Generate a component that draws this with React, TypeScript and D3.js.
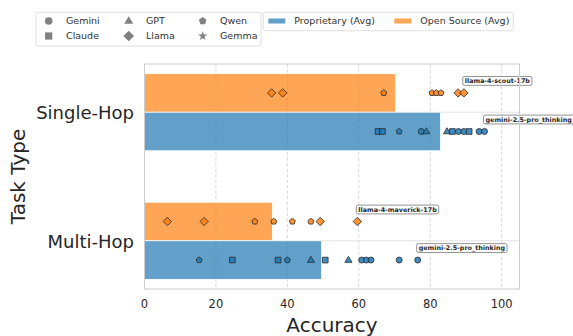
import React, { useEffect, useRef } from "react";
import * as d3 from "d3";

// task categories (top to bottom)
const tasks = ["Single-Hop", "Multi-Hop"];

// averages per task
const proprietaryAvg = [82.9, 49.6];
const openSourceAvg = [70.3, 35.8];

// individual model scores: [family, accuracy]
const singleHopProprietary: [string, number][] = [
  ["Claude", 65.4], ["Claude", 66.6], ["Qwen", 71.3], ["Gemini", 77.5],
  ["GPT", 78.9], ["GPT", 84.7], ["Claude", 86.2], ["Gemini", 87.9],
  ["Gemini", 89.4], ["Claude", 90.9], ["Gemini", 93.7], ["Gemini", 95.2],
];
const singleHopOpen: [string, number][] = [
  ["Llama", 35.6], ["Llama", 38.7], ["Qwen", 67.0], ["Qwen", 80.5],
  ["Qwen", 81.7], ["Qwen", 83.0], ["Llama", 87.8], ["Llama", 89.4],
];
const multiHopProprietary: [string, number][] = [
  ["Qwen", 15.3], ["Claude", 24.6], ["Claude", 37.4], ["Qwen", 40.0],
  ["GPT", 46.6], ["Claude", 50.6], ["GPT", 57.1], ["Gemini", 60.8],
  ["Gemini", 62.1], ["Gemini", 63.4], ["Gemini", 71.3], ["Gemini", 76.5],
];
const multiHopOpen: [string, number][] = [
  ["Llama", 6.4], ["Llama", 16.7], ["Qwen", 30.9], ["Qwen", 36.2],
  ["Qwen", 41.4], ["Qwen", 46.6], ["Llama", 49.2], ["Llama", 59.6],
];

// best model of each group gets a label
const bestProprietary = ["gemini-2.5-pro_thinking", "gemini-2.5-pro_thinking"];
const bestOpen = ["llama-4-scout-17b", "llama-4-maverick-17b"];

const xTicks = [0, 20, 40, 60, 80, 100];
const families = ["Gemini", "Claude", "GPT", "Llama", "Qwen", "Gemma"];

const BLUE = "#1f77b4";
const ORANGE = "#ff7f0e";
const FONT = "DejaVu Sans, sans-serif";
const TXT = "#262626";

function markerPath(family: string, r: number): string {
  const p = d3.path();
  if (family === "Gemini") {
    p.arc(0, 0, r, 0, Math.PI * 2);
    return p.toString();
  }
  if (family === "Claude") {
    const s = r * 0.95;
    return `M${-s},${-s}H${s}V${s}H${-s}Z`;
  }
  if (family === "GPT") {
    const a = r * 1.25;
    return `M0,${-a}L${a * 0.95},${a * 0.6}L${-a * 0.95},${a * 0.6}Z`;
  }
  if (family === "Llama") {
    const a = r * 1.4;
    return `M0,${-a}L${a},0L0,${a}L${-a},0Z`;
  }
  if (family === "Qwen") {
    const a = r * 1.05;
    const pts = d3.range(5).map((i) => {
      const t = -Math.PI / 2 + (i * 2 * Math.PI) / 5;
      return [a * Math.cos(t), a * Math.sin(t)];
    });
    return "M" + pts.map((q) => q.join(",")).join("L") + "Z";
  }
  return d3.symbol(d3.symbolStar, r * r * 1.9)() as string;
}

const App = () => {
  const svgRef = useRef<SVGSVGElement>(null);

  useEffect(() => {
    const width = 573;
    const height = 336;
    const plot = { left: 144.5, right: 519.5, top: 64, bottom: 289 };

    const svg = d3.select(svgRef.current);
    svg.selectAll("*").remove();
    svg.attr("width", width).attr("height", height);

    const x = d3.scaleLinear().domain([0, 105]).range([plot.left, plot.right]);
    const y = d3.scaleLinear().domain([-0.375, 1.375]).range([plot.top, plot.bottom]);

    // grid
    svg
      .append("g")
      .selectAll("line")
      .data(xTicks)
      .join("line")
      .attr("x1", (d) => x(d))
      .attr("x2", (d) => x(d))
      .attr("y1", plot.top)
      .attr("y2", plot.bottom)
      .attr("stroke", "#cfcfcf")
      .attr("stroke-width", 0.8)
      .attr("stroke-dasharray", "3.5,2");
    svg
      .append("g")
      .selectAll("line")
      .data(tasks)
      .join("line")
      .attr("x1", plot.left)
      .attr("x2", plot.right)
      .attr("y1", (_, i) => y(i))
      .attr("y2", (_, i) => y(i))
      .attr("stroke", "#e2e2e2")
      .attr("stroke-width", 1);

    // average bars
    const bars = svg.append("g");
    tasks.forEach((_, i) => {
      bars
        .append("rect")
        .attr("x", x(0))
        .attr("y", y(i - 0.3))
        .attr("width", x(openSourceAvg[i]) - x(0))
        .attr("height", y(i) - y(i - 0.3))
        .attr("fill", ORANGE)
        .attr("fill-opacity", 0.7)
        .attr("stroke", "white")
        .attr("stroke-width", 0.8);
      bars
        .append("rect")
        .attr("x", x(0))
        .attr("y", y(i))
        .attr("width", x(proprietaryAvg[i]) - x(0))
        .attr("height", y(i + 0.3) - y(i))
        .attr("fill", BLUE)
        .attr("fill-opacity", 0.7)
        .attr("stroke", "white")
        .attr("stroke-width", 0.8);
    });

    // model points
    const groups = [
      { pts: singleHopOpen, task: 0, off: -0.15, color: ORANGE, best: bestOpen[0] },
      { pts: singleHopProprietary, task: 0, off: 0.15, color: BLUE, best: bestProprietary[0] },
      { pts: multiHopOpen, task: 1, off: -0.15, color: ORANGE, best: bestOpen[1] },
      { pts: multiHopProprietary, task: 1, off: 0.15, color: BLUE, best: bestProprietary[1] },
    ];
    const pg = svg.append("g");
    const ag = svg.append("g");
    groups.forEach((g) => {
      const cy = y(g.task + g.off);
      pg.append("g")
        .selectAll("path")
        .data(g.pts)
        .join("path")
        .attr("transform", (d) => `translate(${x(d[1])},${cy})`)
        .attr("d", (d) => markerPath(d[0], 3))
        .attr("fill", g.color)
        .attr("fill-opacity", 0.85)
        .attr("stroke", "#2b2b2b")
        .attr("stroke-width", 0.8);

      const top = d3.max(g.pts, (d) => d[1]) as number;
      const lx = x(top) + 1;
      const ly = cy - 12;
      const label = ag.append("g");
      const t = label
        .append("text")
        .attr("x", lx)
        .attr("y", ly)
        .attr("dy", "0.35em")
        .attr("font-family", FONT)
        .attr("font-weight", "bold")
        .attr("font-size", 6.4)
        .attr("fill", TXT)
        .text(g.best);
      const w = (t.node() as SVGTextElement).getComputedTextLength();
      label
        .insert("rect", "text")
        .attr("x", lx - 2)
        .attr("y", ly - 4.4)
        .attr("width", w + 4)
        .attr("height", 8.8)
        .attr("rx", 1.5)
        .attr("fill", "white")
        .attr("fill-opacity", 0.9)
        .attr("stroke", "#777")
        .attr("stroke-width", 0.8);
    });

    // frame
    svg
      .append("rect")
      .attr("x", plot.left)
      .attr("y", plot.top)
      .attr("width", plot.right - plot.left)
      .attr("height", plot.bottom - plot.top)
      .attr("fill", "none")
      .attr("stroke", "#cccccc")
      .attr("stroke-width", 1);

    // axes labels
    svg
      .append("g")
      .selectAll("text")
      .data(xTicks)
      .join("text")
      .attr("x", (d) => x(d))
      .attr("y", 308)
      .attr("text-anchor", "middle")
      .attr("font-family", FONT)
      .attr("font-size", 11.5)
      .attr("fill", TXT)
      .text((d) => d);
    svg
      .append("g")
      .selectAll("text")
      .data(tasks)
      .join("text")
      .attr("x", 134)
      .attr("y", (_, i) => y(i) + 7)
      .attr("text-anchor", "end")
      .attr("font-family", FONT)
      .attr("font-size", 18)
      .attr("fill", TXT)
      .text((d) => d);
    svg
      .append("text")
      .attr("x", (plot.left + plot.right) / 2)
      .attr("y", 332)
      .attr("text-anchor", "middle")
      .attr("font-family", FONT)
      .attr("font-size", 20)
      .attr("fill", TXT)
      .text("Accuracy");
    svg
      .append("text")
      .attr("transform", `translate(24.5,${(plot.top + plot.bottom) / 2}) rotate(-90)`)
      .attr("text-anchor", "middle")
      .attr("font-family", FONT)
      .attr("font-size", 20)
      .attr("fill", TXT)
      .text("Task Type");

    // legend: model families
    const lg = svg.append("g");
    lg.append("rect")
      .attr("x", 36)
      .attr("y", 12.3)
      .attr("width", 225)
      .attr("height", 33.7)
      .attr("rx", 2)
      .attr("fill", "white")
      .attr("stroke", "#d6d6d6")
      .attr("stroke-width", 0.8);
    const colX = [48.7, 128.7, 202.7];
    const rowY = [21, 36];
    families.forEach((f, i) => {
      const cx = colX[Math.floor(i / 2)];
      const cy = rowY[i % 2];
      lg.append("path")
        .attr("transform", `translate(${cx},${cy})`)
        .attr("d", markerPath(f, 3.8))
        .attr("fill", "#808080");
      lg.append("text")
        .attr("x", cx + 17.3)
        .attr("y", cy)
        .attr("dy", "0.35em")
        .attr("font-family", FONT)
        .attr("font-size", 9.5)
        .attr("fill", "#333")
        .text(f);
    });

    // legend: averages
    const lb = svg.append("g");
    lb.append("rect")
      .attr("x", 263.3)
      .attr("y", 12.3)
      .attr("width", 250)
      .attr("height", 18.4)
      .attr("rx", 2)
      .attr("fill", "white")
      .attr("stroke", "#d6d6d6")
      .attr("stroke-width", 0.8);
    [
      { label: "Proprietary (Avg)", color: BLUE, px: 268.3 },
      { label: "Open Source (Avg)", color: ORANGE, px: 394.3 },
    ].forEach((e) => {
      lb.append("rect")
        .attr("x", e.px)
        .attr("y", 18.5)
        .attr("width", 17)
        .attr("height", 5)
        .attr("fill", e.color)
        .attr("fill-opacity", 0.7);
      lb.append("text")
        .attr("x", e.px + 26)
        .attr("y", 21)
        .attr("dy", "0.35em")
        .attr("font-family", FONT)
        .attr("font-size", 9.5)
        .attr("fill", "#333")
        .text(e.label);
    });
  }, []);

  return (
    <svg
      ref={svgRef}
      style={{ position: "absolute", left: 0, top: 0, background: "white" }}
    ></svg>
  );
};

export default App;
